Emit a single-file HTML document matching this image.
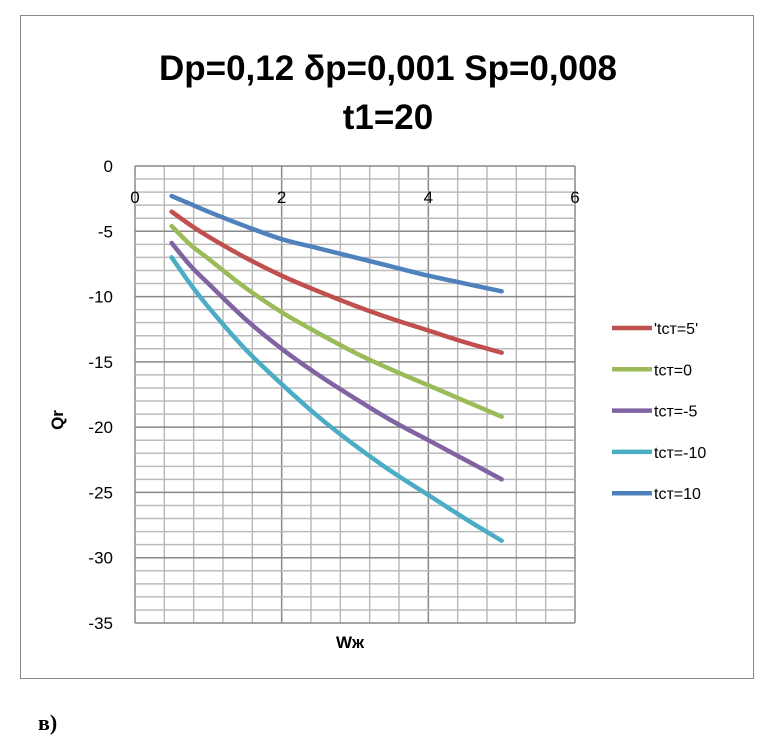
<!DOCTYPE html>
<html><head><meta charset="utf-8"><style>
body{margin:0;background:#fff;width:773px;height:751px;overflow:hidden;font-family:"Liberation Sans",sans-serif}
</style></head><body>
<svg width="773" height="751" font-family="Liberation Sans, sans-serif">
<rect x="20.5" y="15.5" width="733" height="663" fill="#fff" stroke="#888"/>
<text x="388" y="80" text-anchor="middle" font-size="35" font-weight="bold">Dp=0,12 δp=0,001 Sp=0,008</text>
<text x="388" y="129" text-anchor="middle" font-size="35" font-weight="bold">t1=20</text>
<g id="grid"></g><g id="axes"></g><g id="series"></g><g id="legend"></g>
<text x="63" y="420" font-size="17" font-weight="bold" transform="rotate(-90 63 420)" text-anchor="middle">Qr</text>
<text x="350" y="648" font-size="17" font-weight="bold" text-anchor="middle">Wж</text>
<text x="38" y="730" font-size="22" font-weight="bold" font-family="Liberation Serif, serif">в)</text>
</svg>
<script>
const xs=[0.5,0.75,1,1.5,2,2.5,3,3.5,4,4.5,5];
const sRed=[-3.5,-4.5,-5.4,-7.0,-8.4,-9.6,-10.7,-11.7,-12.6,-13.5,-14.3];
const sGreen=[-4.6,-6.0,-7.1,-9.3,-11.2,-12.8,-14.3,-15.6,-16.8,-18.0,-19.2];
const sPurple=[-5.9,-7.6,-9.0,-11.7,-14.0,-16.0,-17.8,-19.5,-21.0,-22.5,-24.0];
const sCyan=[-7.0,-9.0,-10.8,-14.0,-16.7,-19.2,-21.4,-23.4,-25.2,-27.0,-28.7];
const sBlue=[-2.3,-2.9,-3.5,-4.6,-5.6,-6.3,-7.0,-7.7,-8.4,-9.0,-9.6];
const seriesNames=["'tст=5'","tст=0","tст=-5","tст=-10","tст=10"];
const xTicks=[0,2,4,6];
const yTicks=[0,-5,-10,-15,-20,-25,-30,-35];
const NS="http://www.w3.org/2000/svg";
const X=v=>135+v*(575-135)/6, Y=v=>166+(-v)*(623-166)/35;
function mk(p,t,a){const e=document.createElementNS(NS,t);for(const k in a)e.setAttribute(k,a[k]);p.appendChild(e);return e;}
const g=document.getElementById('grid');
for(let i=0;i<=15;i++){const v=i*0.4;const l=mk(g,'line',{x1:X(v),x2:X(v),y1:166,y2:623,stroke:(i%5==0)?'#888':'#bbb','stroke-width':1.5});

}
for(let i=0;i<=35;i++){const l=mk(g,'line',{x1:135,x2:575,y1:Y(-i),y2:Y(-i),stroke:(i%5==0)?'#888':'#bbb','stroke-width':1.5});

}
const ax=document.getElementById('axes');
xTicks.forEach(v=>{const t=mk(ax,'text',{x:X(v),y:203,'font-size':17,'text-anchor':'middle'});t.textContent=v;

});
yTicks.forEach(v=>{const t=mk(ax,'text',{x:113,y:Y(v)+6,'font-size':17,'text-anchor':'end'});t.textContent=v;

});
const all=[sRed,sGreen,sPurple,sCyan,sBlue], cols=['#c0504d','#9bbb59','#8064a2','#4bacc6','#4f81bd'];
const sg=document.getElementById('series'), lg=document.getElementById('legend');
function path(ys){let pts=xs.map((x,i)=>[X(x),Y(ys[i])]);let d='M'+pts[0];
for(let i=0;i<pts.length-1;i++){const p0=pts[i-1]||pts[i],p1=pts[i],p2=pts[i+1],p3=pts[i+2]||p2;
d+=` C${p1[0]+(p2[0]-p0[0])/6},${p1[1]+(p2[1]-p0[1])/6} ${p2[0]-(p3[0]-p1[0])/6},${p2[1]-(p3[1]-p1[1])/6} ${p2[0]},${p2[1]}`;}return d;}
all.forEach((ys,k)=>{const p=mk(sg,'path',{d:path(ys),fill:'none',stroke:cols[k],'stroke-width':4.5,'stroke-linecap':'round'});


const ly=328+k*41.3;
const l=mk(lg,'line',{x1:612,x2:652,y1:ly,y2:ly,stroke:cols[k],'stroke-width':4.5});


const t=mk(lg,'text',{x:654,y:ly+6,'font-size':16});t.textContent=seriesNames[k];

});
</script>
</body></html>
